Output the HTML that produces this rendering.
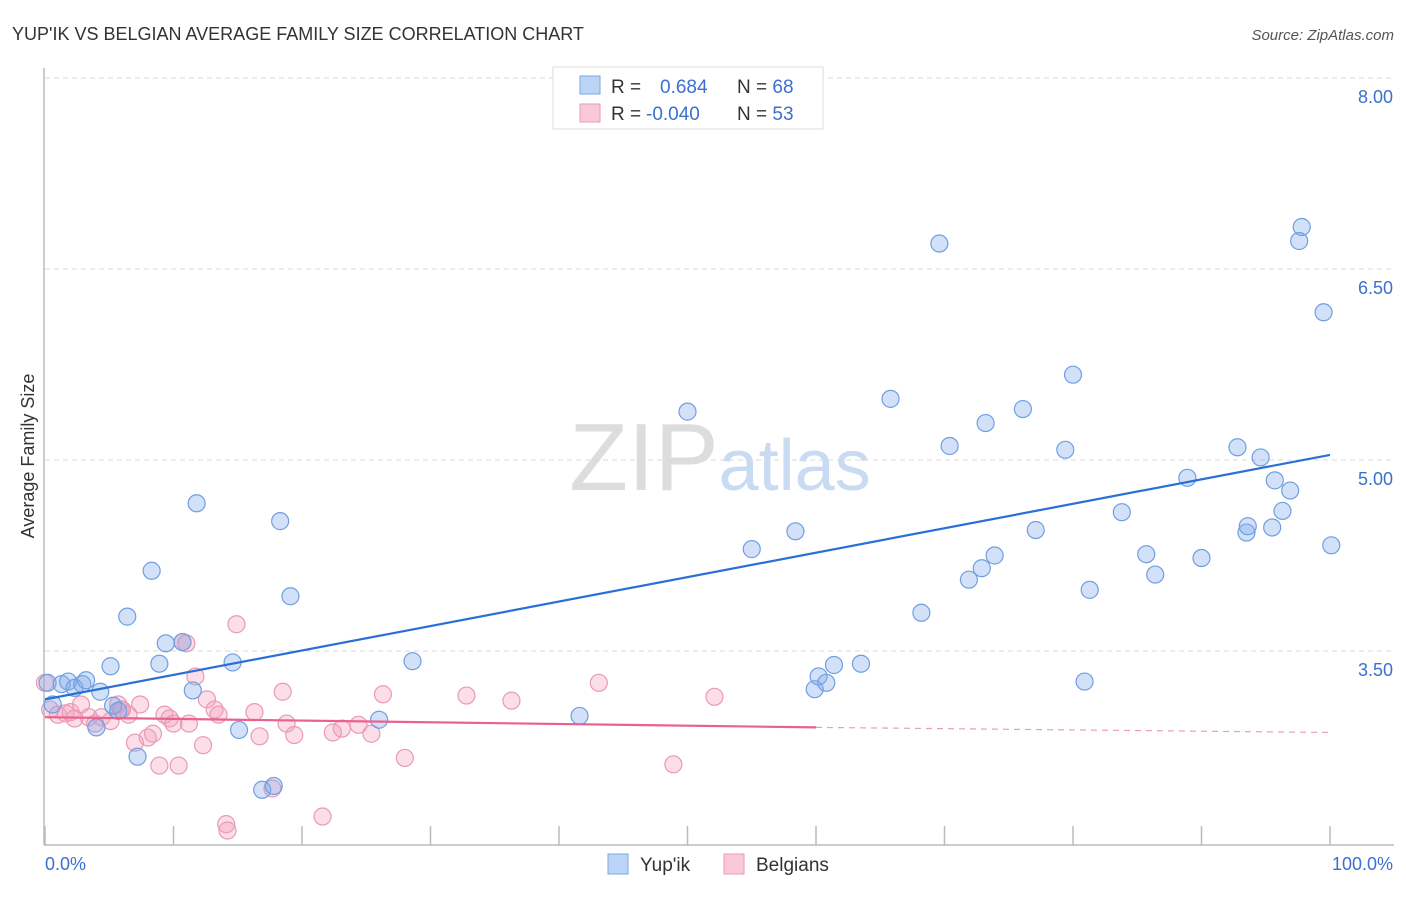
<!DOCTYPE html>
<html><head><meta charset="utf-8"><style>
body{margin:0;background:#fff;font-family:"Liberation Sans",sans-serif}
svg text{font-family:"Liberation Sans",sans-serif}
</style></head><body>
<svg id="chart" width="1406" height="892" xmlns="http://www.w3.org/2000/svg">
<text x="12" y="40" font-size="18" fill="#333">YUP'IK VS BELGIAN AVERAGE FAMILY SIZE CORRELATION CHART</text>
<text x="1394" y="40" font-size="15" fill="#555" text-anchor="end" font-style="italic">Source: ZipAtlas.com</text>
<text x="720" y="490" font-size="96" text-anchor="middle" fill="#ddd" font-family="Liberation Serif">ZIP<tspan fill="#c9daf3" font-family="Liberation Sans" font-size="72">atlas</tspan></text>
<g id="grid"></g>
<line x1="44" y1="68" x2="44" y2="845" stroke="#bbb" stroke-width="1.5"/>
<line x1="44" y1="845" x2="1394" y2="845" stroke="#bbb" stroke-width="1.5"/>
<g id="ticks"></g>
<text x="34" y="456" font-size="18" fill="#333" text-anchor="middle" transform="rotate(-90 34 456)">Average Family Size</text>
<text x="45" y="870" font-size="18" fill="#3b6fd0">0.0%</text>
<text x="1393" y="870" font-size="18" fill="#3b6fd0" text-anchor="end">100.0%</text>
<g id="pts"></g>
<g id="trends"></g>
<g>
<rect x="553" y="67" width="270" height="62" fill="#fff" stroke="#ddd"/>
<rect x="580" y="76" width="20" height="18" fill="#bcd4f5" stroke="#7aa7e0"/>
<rect x="580" y="104" width="20" height="18" fill="#f9c9d8" stroke="#e79ab5"/>
<text x="611" y="93" font-size="19" fill="#333">R = <tspan x="660" fill="#3b6fd0">0.684</tspan><tspan x="737" fill="#333">N = </tspan><tspan fill="#3b6fd0">68</tspan></text>
<text x="611" y="120" font-size="19" fill="#333">R = <tspan x="646" fill="#3b6fd0">-0.040</tspan><tspan x="737" fill="#333">N = </tspan><tspan fill="#3b6fd0">53</tspan></text>
</g>
<g>
<rect x="608" y="854" width="20" height="20" fill="#bcd4f5" stroke="#7aa7e0"/>
<text x="640" y="871" font-size="19" fill="#333">Yup'ik</text>
<rect x="724" y="854" width="20" height="20" fill="#f9c9d8" stroke="#e79ab5"/>
<text x="756" y="871" font-size="19" fill="#333">Belgians</text>
</g>
</svg>
<script>
const yTicks=[8.00,6.50,5.00,3.50];
const yTickLabels=["8.00","6.50","5.00","3.50"];
const xTicks=[0,10,20,30,40,50,60,70,80,90,100];
const yupikX=[0.2,0.6,1.3,1.8,2.3,2.9,3.2,4,4.3,5.1,5.3,5.7,6.4,7.2,8.3,8.9,9.4,10.7,11.5,11.8,14.6,15.1,16.9,17.8,18.3,19.1,26,28.6,41.6,50,55,58.4,59.9,60.2,60.8,61.4,63.5,65.8,68.2,69.6,70.4,71.9,72.9,73.2,73.9,76.1,77.1,79.4,80,80.9,81.3,83.8,85.7,86.4,88.9,90,92.8,93.5,93.6,94.6,95.5,95.7,96.3,96.9,97.6,97.8,99.5,100.1];
const yupikY=[3.25,3.08,3.24,3.26,3.21,3.24,3.27,2.90,3.18,3.38,3.07,3.03,3.77,2.67,4.13,3.40,3.56,3.57,3.19,4.66,3.41,2.88,2.41,2.44,4.52,3.93,2.96,3.42,2.99,5.38,4.30,4.44,3.20,3.30,3.25,3.39,3.40,5.48,3.80,6.70,5.11,4.06,4.15,5.29,4.25,5.40,4.45,5.08,5.67,3.26,3.98,4.59,4.26,4.10,4.86,4.23,5.10,4.43,4.48,5.02,4.47,4.84,4.60,4.76,6.72,6.83,6.16,4.33];
const belgX=[0,0.4,1,1.6,2,2.3,2.8,3.4,3.9,4.4,5.1,5.7,6,6.5,7,7.4,8,8.4,8.9,9.3,9.7,10,10.4,10.7,11,11.2,11.7,12.3,12.6,13.2,13.5,14.1,14.2,14.9,16.3,16.7,18.5,18.8,19.4,21.6,22.4,23.1,24.4,25.4,26.3,28,32.8,36.3,43.1,48.9,52.1,17.7,5.9];
const belgY=[3.25,3.04,3.00,3.01,3.02,2.97,3.08,2.98,2.93,2.98,2.95,3.08,3.04,3.00,2.78,3.08,2.82,2.85,2.60,3.00,2.97,2.93,2.60,3.57,3.56,2.93,3.30,2.76,3.12,3.04,3.00,2.14,2.09,3.71,3.02,2.83,3.18,2.93,2.84,2.20,2.86,2.89,2.92,2.85,3.16,2.66,3.15,3.11,3.25,2.61,3.14,2.42,3.04];
const blueTrend=[[0,3.12],[100,5.04]];
const pinkTrend=[[0,2.98],[60,2.90],[100,2.86]];
const NS="http://www.w3.org/2000/svg";
const X=v=>45+v*12.85, Y=v=>78+(8-v)*127.33;
function mk(t,a,p){const e=document.createElementNS(NS,t);for(const k in a)e.setAttribute(k,a[k]);document.getElementById(p).appendChild(e);return e;}
yTicks.forEach((v,i)=>{
 const l=mk('line',{x1:45,x2:1394,y1:Y(v),y2:Y(v),stroke:'#d8d8d8','stroke-dasharray':'5,4'},'grid');
 
 
 const t=mk('text',{x:1393,y:Y(v)+25,'font-size':18,fill:'#3b6fd0','text-anchor':'end'},'grid');
 t.textContent=yTickLabels[i];
 
 
});
xTicks.forEach(v=>{
 const l=mk('line',{x1:X(v),x2:X(v),y1:826,y2:845,stroke:'#bbb','stroke-width':1.5},'ticks');
 
 
});
belgX.forEach((x,i)=>{
 const c=mk('circle',{cx:X(x),cy:Y(belgY[i]),r:8.5,fill:'rgba(243,160,188,0.35)',stroke:'#e99ab6','stroke-width':1.2},'pts');
 
 
});
yupikX.forEach((x,i)=>{
 const c=mk('circle',{cx:X(x),cy:Y(yupikY[i]),r:8.5,fill:'rgba(130,170,235,0.35)',stroke:'#6f9fe0','stroke-width':1.2},'pts');
 
 
});
let b=mk('line',{x1:X(blueTrend[0][0]),y1:Y(blueTrend[0][1]),x2:X(blueTrend[1][0]),y2:Y(blueTrend[1][1]),stroke:'#2a6fd6','stroke-width':2.2},'trends');


let p=mk('line',{x1:X(pinkTrend[0][0]),y1:Y(pinkTrend[0][1]),x2:X(pinkTrend[1][0]),y2:Y(pinkTrend[1][1]),stroke:'#e8618f','stroke-width':2.2},'trends');


let pd=mk('line',{x1:X(pinkTrend[1][0]),y1:Y(pinkTrend[1][1]),x2:X(pinkTrend[2][0]),y2:Y(pinkTrend[2][1]),stroke:'#e8a0b8','stroke-width':1.2,'stroke-dasharray':'6,5'},'trends');


</script>
</body></html>
